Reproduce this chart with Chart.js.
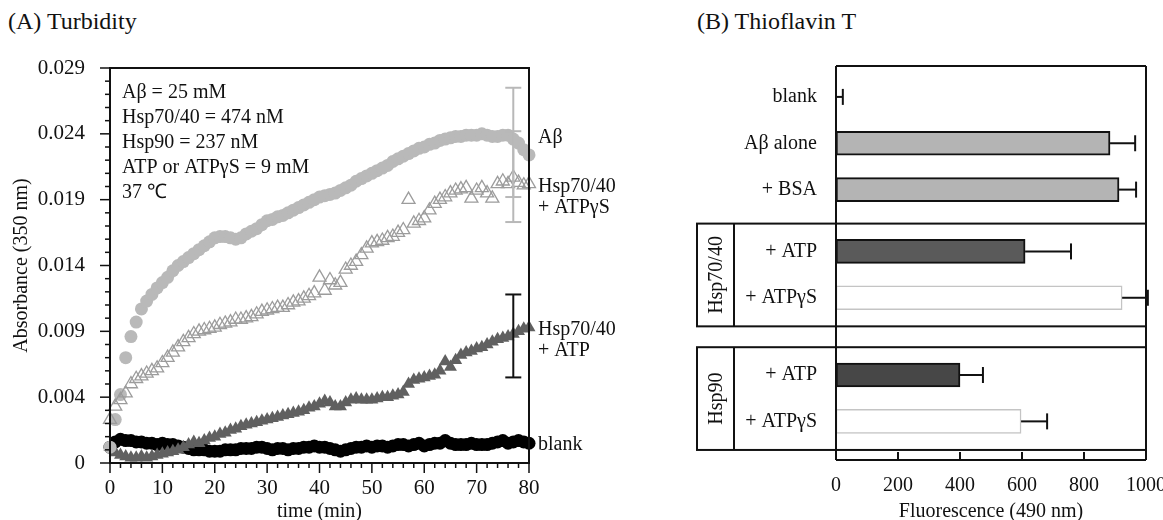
<!DOCTYPE html>
<html>
<head>
<meta charset="utf-8">
<script src="https://cdn.jsdelivr.net/npm/chart.js@4.4.1/dist/chart.umd.min.js"></script>
<style>
  body { margin: 0; background: #fff; width: 1163px; height: 520px; overflow: hidden; position: relative;
         font-family: "Liberation Serif", "Times New Roman", serif; color: #111; }
  .panel-title { position: absolute; top: 8px; font-size: 24px; white-space: nowrap; }
  #chartA { position: absolute; left: 0; top: 0; }
  #chartB { position: absolute; left: 650px; top: 0; }
</style>
</head>
<body>
<div class="panel-title" style="left:8px">(A) Turbidity</div>
<div class="panel-title" style="left:697px">(B) Thioflavin T</div>
<canvas id="chartA" width="650" height="520"></canvas>
<canvas id="chartB" width="530" height="520"></canvas>
<script>
// ---------- (A) Turbidity data ----------
const timeMin = [0,1,2,3,4,5,6,7,8,9,10,11,12,13,14,15,16,17,18,19,20,21,22,23,24,25,26,27,28,29,
  30,31,32,33,34,35,36,37,38,39,40,41,42,43,44,45,46,47,48,49,50,51,52,53,54,55,56,57,58,59,
  60,61,62,63,64,65,66,67,68,69,70,71,72,73,74,75,76,77,78,79,80];

const abeta = [0.0012,0.0033,0.0052,0.0080,0.0096,0.0107,0.0117,0.0123,0.0128,0.0133,
  0.0137,0.0141,0.0146,0.0150,0.0153,0.0156,0.0159,0.0162,0.0165,0.0168,
  0.0171,0.0172,0.0172,0.0171,0.0170,0.0171,0.0174,0.0176,0.0178,0.0181,
  0.0184,0.0185,0.0187,0.0188,0.0190,0.0192,0.0194,0.0196,0.0198,0.0200,
  0.0202,0.0203,0.0204,0.0205,0.0207,0.0209,0.0211,0.0214,0.0216,0.0218,
  0.0220,0.0222,0.0224,0.0226,0.0229,0.0231,0.0233,0.0235,0.0237,0.0239,
  0.0240,0.0242,0.0243,0.0245,0.0246,0.0247,0.0248,0.0248,0.0249,0.0249,
  0.0249,0.0250,0.0249,0.0248,0.0248,0.0249,0.0249,0.0246,0.0243,0.0238,
  0.0234];

const hspAtpGammaS = [0.0033,0.0043,0.0048,0.0053,0.0060,0.0064,0.0066,0.0068,0.0070,0.0072,
  0.0076,0.0080,0.0084,0.0088,0.0092,0.0095,0.0098,0.0100,0.0101,0.0102,
  0.0103,0.0105,0.0106,0.0107,0.0109,0.0109,0.0110,0.0111,0.0113,0.0115,
  0.0116,0.0117,0.0118,0.0118,0.0120,0.0122,0.0123,0.0125,0.0127,0.0129,
  0.0141,0.0131,0.0139,0.0135,0.0137,0.0147,0.0150,0.0153,0.0158,0.0163,
  0.0167,0.0168,0.0169,0.0171,0.0172,0.0175,0.0177,0.0200,0.0182,0.0184,
  0.0186,0.0192,0.0197,0.0200,0.0202,0.0205,0.0207,0.0208,0.0209,0.0201,
  0.0207,0.0209,0.0205,0.0201,0.0212,0.0214,0.0212,0.0217,0.0213,0.0211,
  0.0212];

const hspAtp = [0.0012,0.0008,0.0006,0.0005,0.0004,0.0004,0.0005,0.0004,0.0005,0.0006,
  0.0007,0.0008,0.0009,0.0010,0.0012,0.0014,0.0016,0.0015,0.0017,0.0019,
  0.0020,0.0022,0.0023,0.0025,0.0026,0.0028,0.0029,0.0030,0.0031,0.0032,
  0.0033,0.0034,0.0035,0.0036,0.0037,0.0038,0.0039,0.0040,0.0042,0.0043,
  0.0045,0.0047,0.0046,0.0043,0.0043,0.0046,0.0048,0.0049,0.0048,0.0048,
  0.0048,0.0049,0.0050,0.0050,0.0051,0.0052,0.0054,0.0060,0.0063,0.0064,
  0.0065,0.0066,0.0067,0.0070,0.0077,0.0073,0.0078,0.0082,0.0084,0.0085,
  0.0087,0.0088,0.0090,0.0092,0.0094,0.0095,0.0096,0.0098,0.0100,0.0102,
  0.0103];

const blank = [0.0012,0.0016,0.0018,0.0017,0.0017,0.0016,0.0016,0.0015,0.0015,0.0014,
  0.0015,0.0014,0.0014,0.0013,0.0012,0.0011,0.0010,0.0010,0.0010,0.0009,
  0.0009,0.0009,0.0010,0.0010,0.0010,0.0011,0.0011,0.0011,0.0012,0.0012,
  0.0011,0.0010,0.0011,0.0011,0.0010,0.0011,0.0011,0.0012,0.0012,0.0013,
  0.0012,0.0012,0.0011,0.0010,0.0009,0.0010,0.0011,0.0012,0.0012,0.0013,
  0.0012,0.0013,0.0013,0.0012,0.0013,0.0014,0.0014,0.0013,0.0014,0.0015,
  0.0013,0.0014,0.0015,0.0015,0.0017,0.0015,0.0014,0.0014,0.0014,0.0015,
  0.0014,0.0014,0.0014,0.0015,0.0016,0.0017,0.0015,0.0016,0.0017,0.0016,
  0.0015];

// printed tick labels of the absorbance axis (evenly spaced ticks)
const yTickLabels = ['0', '0.004', '0.009', '0.014', '0.019', '0.024', '0.029'];

// error bars shown at one time point: [low, high]
const errTime = 77;
const errAbeta = [0.0202, 0.0285];
const errGammaS = [0.0183, 0.0252];
const errAtp = [0.0065, 0.0128];

const conditionText = ['Aβ = 25 mM', 'Hsp70/40 = 474 nM', 'Hsp90 = 237 nM', 'ATP or ATPγS = 9 mM', '37 ℃'];
const seriesTags = [['Aβ'], ['Hsp70/40', '+ ATPγS'], ['Hsp70/40', '+ ATP'], ['blank']];

// ---------- (B) Thioflavin T data ----------
const thtCategories = ['blank', 'Aβ alone', '+ BSA', '+ ATP', '+ ATPγS', '+ ATP', '+ ATPγS'];
const thtGroups = ['', '', '', 'Hsp70/40', 'Hsp70/40', 'Hsp90', 'Hsp90'];
const thtValues = [0, 884, 913, 610, 923, 400, 597];
const thtErrors = [22, 81, 55, 148, 83, 74, 84];

// ---------- styles / layout ----------
const FONT = '"Liberation Serif", "Times New Roman", serif';
const INK = '#111';
Chart.defaults.font.family = FONT;
Chart.defaults.font.size = 20;
Chart.defaults.color = INK;

const tagAnchor = [0.0247, 0.0202, 0.0093, 0.0014];   // vertical centre of each right-side tag
const errColor = ['#b8b8b8', '#b8b8b8', INK];

const barFill = ['#b4b4b4', '#b4b4b4', '#b4b4b4', '#5a5a5a', '#ffffff', '#474747', '#ffffff'];
const barEdge = [INK, INK, INK, INK, '#c4c4c4', INK, '#c4c4c4'];
const barEdgeW = [2, 2, 2, 2, 1.5, 2, 1.5];
const ROW_SLOT = [4, 10, 16, 24, 30, 40, 46];   // category slots (spacers give the group gaps)
const SLOT_COUNT = 52;

function line(ctx, x1, y1, x2, y2) {
  ctx.beginPath(); ctx.moveTo(x1, y1); ctx.lineTo(x2, y2); ctx.stroke();
}

// ---------- chart A ----------
const pts = (arr) => timeMin.map((t, i) => ({ x: t, y: arr[i] }));

const turbidityFrame = {
  id: 'turbidityFrame',
  afterDatasetsDraw(chart) {
    const { ctx, chartArea: a, scales: { x, y } } = chart;
    ctx.save();
    // error bars
    [errAbeta, errGammaS, errAtp].forEach((e, i) => {
      const px = x.getPixelForValue(errTime);
      const lo = y.getPixelForValue(e[0]), hi = y.getPixelForValue(e[1]);
      ctx.strokeStyle = errColor[i]; ctx.lineWidth = 2;
      line(ctx, px, lo, px, hi);
      line(ctx, px - 8, lo, px + 8, lo);
      line(ctx, px - 8, hi, px + 8, hi);
    });
    // frame
    ctx.strokeStyle = INK; ctx.lineWidth = 2;
    ctx.strokeRect(a.left, a.top, a.right - a.left, a.bottom - a.top);
    // ticks: majors + minors, outward
    ctx.lineWidth = 1.5;
    for (let i = 0; i <= 30; i++) {
      const py = y.getPixelForValue(i * 0.001);
      line(ctx, a.left - (i % 5 === 0 ? 10 : 5), py, a.left, py);
    }
    for (let t = 0; t <= 80; t += 2) {
      const px = x.getPixelForValue(t);
      line(ctx, px, a.bottom, px, a.bottom + (t % 10 === 0 ? 10 : 5));
    }
    // conditions
    ctx.fillStyle = INK;
    ctx.font = '20px ' + FONT;
    ctx.textAlign = 'left'; ctx.textBaseline = 'middle';
    conditionText.forEach((s, i) => ctx.fillText(s, a.left + 12, a.top + 25 + i * 25));
    // series tags at the right
    seriesTags.forEach((lines, i) => {
      const cy = y.getPixelForValue(tagAnchor[i]);
      lines.forEach((s, j) => ctx.fillText(s, a.right + 9, cy + (j - (lines.length - 1) / 2) * 21));
    });
    ctx.restore();
  }
};

new Chart(document.getElementById('chartA'), {
  type: 'scatter',
  data: {
    datasets: [
      { label: 'Hsp70/40 + ATPγS', data: pts(hspAtpGammaS), order: 0, pointStyle: 'triangle', pointRadius: 7.5,
        backgroundColor: 'rgba(255,255,255,0)', borderColor: '#9c9c9c', borderWidth: 1.3, clip: false },
      { label: 'Aβ', data: pts(abeta), order: 1, pointStyle: 'circle', pointRadius: 6.5,
        backgroundColor: '#b9b9b9', borderWidth: 0, clip: false },
      { label: 'Hsp70/40 + ATP', data: pts(hspAtp), order: 2, pointStyle: 'triangle', pointRadius: 7.5,
        backgroundColor: '#606060', borderWidth: 0, clip: false },
      { label: 'blank', data: pts(blank), order: 3, pointStyle: 'circle', pointRadius: 6.5,
        backgroundColor: '#000', borderWidth: 0, clip: false }
    ]
  },
  options: {
    responsive: false,
    animation: false,
    layout: { padding: { left: 0, top: 68, right: 121, bottom: 0 } },
    plugins: { legend: { display: false }, tooltip: { enabled: false } },
    scales: {
      x: {
        type: 'linear', min: 0, max: 80,
        ticks: { stepSize: 10, padding: 5, color: INK, font: { size: 21 } },
        grid: { display: false }, border: { display: false },
        title: { display: true, text: 'time (min)', padding: 0, color: INK, font: { size: 20, lineHeight: 0.8 } },
        afterFit(s) { s.height = 57; }
      },
      y: {
        type: 'linear', min: 0, max: 0.030,
        ticks: { stepSize: 0.005, padding: 17, color: INK, font: { size: 21 }, callback: (v, i) => yTickLabels[i] },
        grid: { display: false }, border: { display: false },
        title: { display: true, text: 'Absorbance (350 nm)', padding: { top: 10, bottom: 0 }, color: INK, font: { size: 20 } },
        afterFit(s) { s.width = 110; }
      }
    }
  },
  plugins: [turbidityFrame]
});

// ---------- chart B ----------
const slotLabels = new Array(SLOT_COUNT).fill('');
const slotValues = new Array(SLOT_COUNT).fill(null);
const slotFill = new Array(SLOT_COUNT).fill('#fff');
const slotEdge = new Array(SLOT_COUNT).fill(INK);
const slotEdgeW = new Array(SLOT_COUNT).fill(0);
ROW_SLOT.forEach((s, i) => {
  slotLabels[s] = thtCategories[i];
  slotValues[s] = thtValues[i];
  slotFill[s] = barFill[i];
  slotEdge[s] = barEdge[i];
  slotEdgeW[s] = barEdgeW[i];
});

const thtFrame = {
  id: 'thtFrame',
  afterDatasetsDraw(chart) {
    const { ctx, chartArea: a, scales: { x, y } } = chart;
    ctx.save();
    ctx.strokeStyle = INK; ctx.lineWidth = 2;
    // error bars (one-sided)
    thtValues.forEach((v, i) => {
      const py = y.getPixelForValue(ROW_SLOT[i]);
      const x0 = x.getPixelForValue(v), x1 = x.getPixelForValue(v + thtErrors[i]);
      line(ctx, x0, py, x1, py);
      line(ctx, x1, py - 8, x1, py + 8);
    });
    // outer frame
    line(ctx, a.left, a.top, a.right, a.top);
    line(ctx, a.left, a.top, a.left, a.bottom);
    line(ctx, a.right, a.top, a.right, a.bottom);
    line(ctx, a.left, a.bottom, a.right, a.bottom);
    // group panels
    const boxLeft = 47, labelCol = 84;
    [...new Set(thtGroups.filter(g => g))].forEach(g => {
      const rows = thtGroups.map((v, i) => v === g ? i : -1).filter(i => i >= 0);
      const top = y.getPixelForValue(ROW_SLOT[rows[0]] - 3.6);
      const bot = y.getPixelForValue(ROW_SLOT[rows[rows.length - 1]] + 3.7);
      ctx.strokeRect(boxLeft, top, a.right - boxLeft, bot - top);
      line(ctx, labelCol, top, labelCol, bot);
      ctx.save();
      ctx.translate((boxLeft + labelCol) / 2, (top + bot) / 2);
      ctx.rotate(-Math.PI / 2);
      ctx.fillStyle = INK;
      ctx.font = '20px ' + FONT;
      ctx.textAlign = 'center'; ctx.textBaseline = 'middle';
      ctx.fillText(g, 0, 1);
      ctx.restore();
    });
    // inward ticks on the fluorescence axis
    for (let v = 0; v <= 1000; v += 200) {
      const px = x.getPixelForValue(v);
      line(ctx, px, a.bottom, px, a.bottom - 8);
    }
    ctx.restore();
  }
};

new Chart(document.getElementById('chartB'), {
  type: 'bar',
  data: {
    labels: slotLabels,
    datasets: [{
      data: slotValues,
      backgroundColor: slotFill,
      borderColor: slotEdge,
      borderWidth: slotEdgeW,
      borderSkipped: false,
      barThickness: 24
    }]
  },
  options: {
    indexAxis: 'y',
    responsive: false,
    animation: false,
    layout: { padding: { left: 0, top: 66, right: 34, bottom: 0 } },
    plugins: { legend: { display: false }, tooltip: { enabled: false } },
    scales: {
      x: {
        type: 'linear', min: 0, max: 1000,
        ticks: { stepSize: 200, padding: 6, color: INK, callback: (v) => String(v) },
        grid: { display: false }, border: { display: false },
        title: { display: true, text: 'Fluorescence (490 nm)', padding: 0, color: INK, font: { size: 20, lineHeight: 0.8 } },
        afterFit(s) { s.height = 60; }
      },
      y: {
        type: 'category', offset: false,
        ticks: { autoSkip: false, padding: 11, color: INK },
        grid: { display: false }, border: { display: false },
        afterFit(s) { s.width = 186; }
      }
    }
  },
  plugins: [thtFrame]
});
</script>
</body>
</html>
